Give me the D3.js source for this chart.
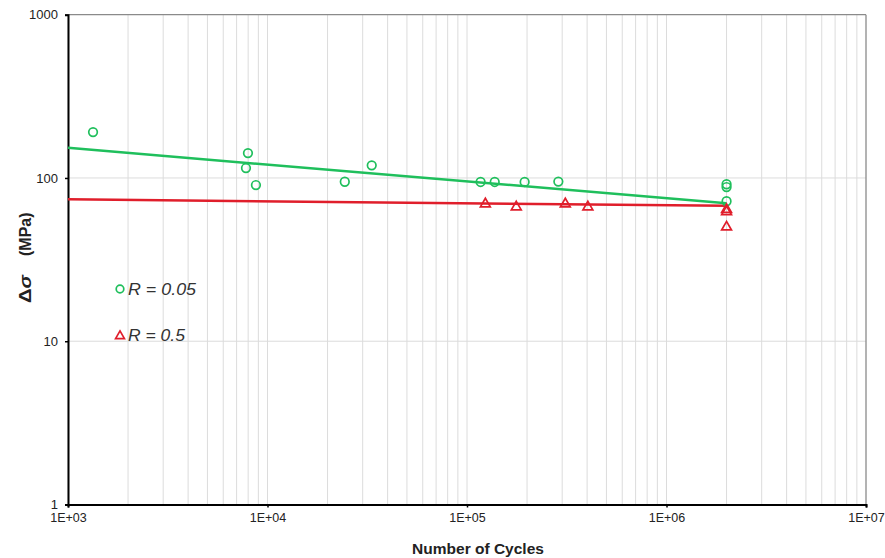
<!DOCTYPE html>
<html>
<head>
<style>
body { margin: 0; background: #fff; }
text { font-family: Arial, "Liberation Sans", sans-serif; }
</style>
</head>
<body>
<script src="https://d3js.org/d3.v7.min.js"></script>
<script>
// R = 0.05 test results (cycles, stress range in MPa)
var cyclesR005 = [1335, 7980, 7800, 8750, 24400, 33300, 117000, 137700, 194500, 287000, 2000000, 2000000, 2000000];
var stressR005 = [191, 142, 115, 90.5, 94.8, 119.5, 94.5, 94.5, 94.5, 95, 91.5, 88, 72];
// R = 0.5 test results
var cyclesR05 = [123600, 176600, 311000, 403600, 2000000, 2000000, 2000000];
var stressR05 = [69.3, 66.4, 69.3, 66.4, 64, 62, 50];
// fitted lines, end points
var trendCycles = [1000, 2000000];
var trendR005 = [153, 70];
var trendR05 = [74, 67.5];

var xTicks = [1e3, 1e4, 1e5, 1e6, 1e7];
var xTickLabels = ["1E+03", "1E+04", "1E+05", "1E+06", "1E+07"];
var yTicks = [1, 10, 100, 1000];
var yTickLabels = ["1", "10", "100", "1000"];

var green = "#1fbf5c", red = "#e01e2b";

var W = 885, H = 558;
var plotL = 68, plotR = 866, plotT = 14.7, plotB = 504.5;

var svg = d3.select("body").append("svg").attr("width", W).attr("height", H);

var x = d3.scaleLog().domain([1e3, 1e7]).range([plotL, plotR]);
var y = d3.scaleLog().domain([1, 1000]).range([plotB, plotT]);

// vertical grid: every 1..9 of each decade
var minorX = [];
for (var d = 3; d < 7; d++) {
  for (var k = 1; k <= 9; k++) minorX.push(k * Math.pow(10, d));
}
svg.append("g").selectAll("line").data(minorX).enter().append("line")
  .attr("x1", function (v) { return x(v); }).attr("x2", function (v) { return x(v); })
  .attr("y1", plotT).attr("y2", plotB)
  .attr("stroke", "#dcdcdc").attr("stroke-width", 1);

// horizontal grid at decades
svg.append("g").selectAll("line").data([10, 100]).enter().append("line")
  .attr("x1", plotL).attr("x2", plotR)
  .attr("y1", function (v) { return y(v); }).attr("y2", function (v) { return y(v); })
  .attr("stroke", "#dcdcdc").attr("stroke-width", 1);

// plot border (top & right)
svg.append("line").attr("x1", plotL).attr("x2", plotR).attr("y1", plotT).attr("y2", plotT)
  .attr("stroke", "#8a8a8a").attr("stroke-width", 1.3);
svg.append("line").attr("x1", plotR).attr("x2", plotR).attr("y1", plotT).attr("y2", plotB)
  .attr("stroke", "#8a8a8a").attr("stroke-width", 1.3);

// axes
var xAxis = d3.axisBottom(x).tickValues(xTicks)
  .tickFormat(function (v, i) { return xTickLabels[i]; })
  .tickSize(3).tickPadding(6);
var gx = svg.append("g").attr("transform", "translate(0," + plotB + ")").call(xAxis);
gx.select(".domain").attr("stroke", "#000").attr("stroke-width", 2);
gx.selectAll(".tick line").attr("stroke", "#000").attr("stroke-width", 1.5);
gx.selectAll("text").attr("font-size", 12.5).attr("fill", "#222")
  .attr("font-family", "Arial, 'Liberation Sans', sans-serif");

var yAxis = d3.axisLeft(y).tickValues(yTicks)
  .tickFormat(function (v, i) { return yTickLabels[i]; })
  .tickSize(3).tickPadding(7);
var gy = svg.append("g").attr("transform", "translate(" + plotL + ",0)").call(yAxis);
gy.select(".domain").attr("stroke", "#000").attr("stroke-width", 2);
gy.selectAll(".tick line").attr("stroke", "#000").attr("stroke-width", 1.5);
gy.selectAll("text").attr("font-size", 13).attr("fill", "#222")
  .attr("font-family", "Arial, 'Liberation Sans', sans-serif");

// trend lines
var line = d3.line().x(function (d) { return x(d[0]); }).y(function (d) { return y(d[1]); });
svg.append("path").datum(d3.zip(trendCycles, trendR005)).attr("d", line)
  .attr("fill", "none").attr("stroke", green).attr("stroke-width", 2.5);
svg.append("path").datum(d3.zip(trendCycles, trendR05)).attr("d", line)
  .attr("fill", "none").attr("stroke", red).attr("stroke-width", 2.5);

// points
svg.append("g").selectAll("circle").data(d3.zip(cyclesR005, stressR005)).enter().append("circle")
  .attr("cx", function (d) { return x(d[0]); }).attr("cy", function (d) { return y(d[1]); })
  .attr("r", 4.3).attr("fill", "none").attr("stroke", green).attr("stroke-width", 1.7);

var tri = d3.symbol().type(d3.symbolTriangle).size(42);
svg.append("g").selectAll("path").data(d3.zip(cyclesR05, stressR05)).enter().append("path")
  .attr("d", tri)
  .attr("transform", function (d) { return "translate(" + x(d[0]) + "," + y(d[1]) + ")"; })
  .attr("fill", "none").attr("stroke", red).attr("stroke-width", 1.7);

// legend
var legend = svg.append("g");
legend.append("circle").attr("cx", 120).attr("cy", 289).attr("r", 3.8)
  .attr("fill", "none").attr("stroke", green).attr("stroke-width", 1.7);
legend.append("text").attr("x", 128).attr("y", 295).attr("font-size", 16.5)
  .attr("textLength", 68).attr("lengthAdjust", "spacingAndGlyphs")
  .attr("font-style", "italic").attr("fill", "#333").text("R = 0.05");
legend.append("path").attr("d", d3.symbol().type(d3.symbolTriangle).size(34))
  .attr("transform", "translate(120,336)")
  .attr("fill", "none").attr("stroke", red).attr("stroke-width", 1.7);
legend.append("text").attr("x", 128).attr("y", 341).attr("font-size", 16.5)
  .attr("textLength", 57).attr("lengthAdjust", "spacingAndGlyphs")
  .attr("font-style", "italic").attr("fill", "#333").text("R = 0.5");

// axis titles
svg.append("text").attr("x", 478).attr("y", 554).attr("text-anchor", "middle")
  .attr("font-size", 15.5).attr("font-weight", "bold").attr("fill", "#222")
  .text("Number of Cycles");

// y title: delta sigma, then (MPa) a little further up
svg.append("text").attr("transform", "translate(31,303) rotate(-90)")
  .attr("font-size", 17).attr("font-weight", "bold").attr("fill", "#222")
  .attr("textLength", 28).attr("lengthAdjust", "spacingAndGlyphs")
  .html('Δ<tspan font-style="italic">σ</tspan>');
svg.append("text").attr("transform", "translate(31,256) rotate(-90)")
  .attr("font-size", 16).attr("font-weight", "bold").attr("fill", "#222")
  .text("(MPa)");
</script>
</body>
</html>
